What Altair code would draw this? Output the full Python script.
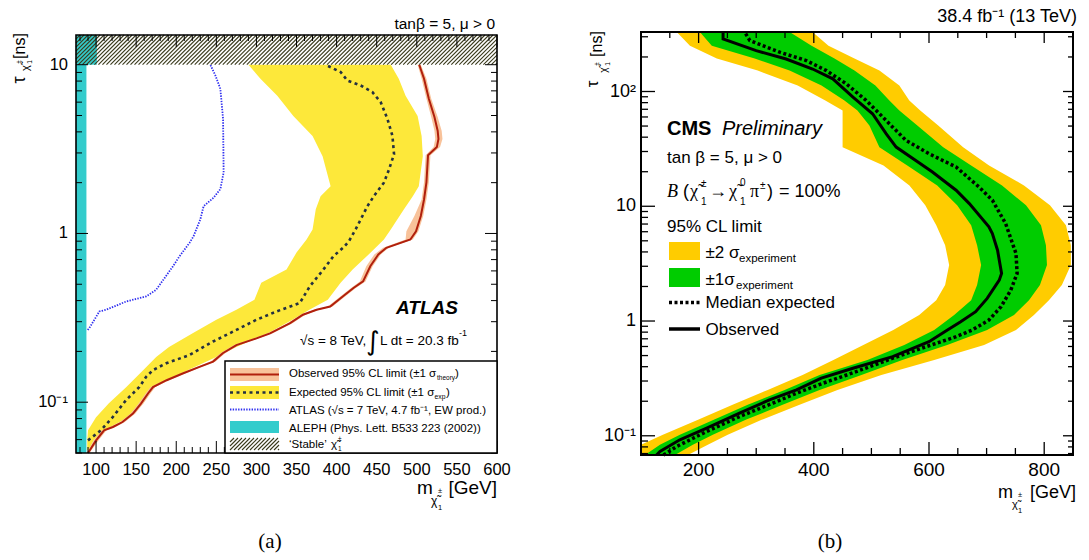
import altair as alt
import pandas as pd

FONT = "Liberation Sans"
SERIF = "Liberation Serif"
CHI = "\u03c7\u0303"

# ------------------------------------------------------------------
# (a) ATLAS, sqrt(s) = 8 TeV, 20.3 fb-1: chargino lifetime vs mass
# ------------------------------------------------------------------
A_XMIN, A_XMAX = 75, 600
A_TMIN, A_TMAX = 0.05, 15

atlas_obs_tau = [0.05, 0.0518, 0.0594, 0.0681, 0.0713, 0.0763, 0.0857, 0.0982, 0.113, 0.123,
                 0.135, 0.148, 0.162, 0.174, 0.195, 0.218, 0.239, 0.256, 0.294, 0.330,
                 0.353, 0.369, 0.424, 0.475, 0.520, 0.639, 0.750, 0.822, 0.921, 1.03,
                 1.27, 1.59, 2.01, 2.91, 3.25, 3.63, 4.06, 4.90, 6.28, 8.26, 10.0]
atlas_obs_mass = [90, 92, 100, 110, 121, 133, 146, 156, 165, 171,
                  188, 208, 229, 246, 258, 275, 300, 317, 342, 358,
                  375, 392, 408, 421, 433, 442, 452, 462, 492, 499,
                  505, 509, 512, 514, 525, 527, 526, 522, 515, 509, 503]
atlas_theory_dn = [2, 2, 3, 3, 3, 3, 3, 3, 3, 3,
                   3, 3, 3, 3, 3, 3, 3, 3, 3, 3,
                   3, 3, 3, 3, 4, 5, 5, 4, 6, 12,
                   8, 3, 3, 3, 4, 4, 4, 4, 3, 3, 2]
atlas_theory_up = [2, 2, 3, 3, 3, 3, 3, 3, 3, 3,
                   3, 3, 3, 3, 3, 3, 3, 3, 3, 3,
                   3, 3, 3, 3, 3, 3, 3, 3, 3, 3,
                   3, 3, 3, 3, 4, 5, 5, 4, 3, 3, 2]

atlas_exp_tau = [0.0594, 0.0681, 0.0818, 0.103, 0.123, 0.1415, 0.155, 0.170, 0.1905, 0.229,
                 0.268, 0.308, 0.345, 0.387, 0.486, 0.610, 0.733, 0.825, 0.900, 1.06,
                 1.21, 1.45, 1.67, 2.00, 2.40, 2.95, 3.79, 4.77, 6.00, 6.88,
                 7.53, 8.06, 9.05, 10.0]
atlas_exp_mass = [90, 106, 121, 137.5, 154, 162.5, 171, 187.5, 216.6, 246,
                  275, 300, 325, 354, 366.6, 383.4, 396, 408.4, 415.4, 423.8,
                  430, 438.4, 446.6, 459, 465.4, 471.6, 469.6, 463.4, 455, 444.6,
                  430, 413.4, 405, 386]

atlas_band_tau = [0.052, 0.0594, 0.0681, 0.0814, 0.0986, 0.1228, 0.155, 0.1853, 0.2126, 0.2575,
                  0.308, 0.353, 0.405, 0.511, 0.611, 0.771, 0.921, 1.056, 1.39, 1.66,
                  1.905, 2.87, 3.78, 4.97, 6.54, 8.25, 10.0]
atlas_band_lo = [89, 89, 90, 100, 116, 137.5, 159, 175, 191, 221,
                 250, 275, 297.5, 306, 337.5, 350, 362.5, 370, 374, 380,
                 392.5, 382.5, 370, 346, 326, 305, 290]
atlas_band_hi = [91, 97, 110, 141, 159, 172.5, 215, 250, 275, 315,
                 345, 366, 389, 405, 420, 442.5, 459, 467.5, 484, 495,
                 502.5, 507.5, 506, 501, 486, 477.5, 467.5]

atlas7_tau = [0.268, 0.275, 0.308, 0.345, 0.353, 0.395, 0.424, 0.464, 0.639, 0.733,
              0.880, 0.963, 1.21, 1.45, 1.63, 1.83, 2.30, 4.77, 7.20, 8.64, 10.0]
atlas7_mass = [89.6, 91.6, 97.9, 104.1, 112.5, 137.5, 162.5, 175, 195.9, 204.1,
               216.6, 221.6, 230, 234.1, 246.6, 255, 259.1, 258.4, 255, 248.8, 242.5]

aleph_tau_lo = [0.05, 10]
aleph_tau_hi = [10, 15]
aleph_mass = [88, 101]

stable_tau = [10, 15]

a_x_major = [100, 150, 200, 250, 300, 350, 400, 450, 500, 550, 600]
a_x_labels = ["100", "150", "200", "250", "300", "350", "400", "450", "500", "550", "600"]
a_x_minor = [v for v in range(80, 600, 10) if v % 50]
a_y_major = [0.1, 1, 10]
a_y_labels = ["10\u207b\u00b9", "1", "10"]
a_y_minor = [0.05, 0.06, 0.07, 0.08, 0.09, 0.2, 0.3, 0.4, 0.5, 0.6, 0.7, 0.8, 0.9,
             2, 3, 4, 5, 6, 7, 8, 9]

# ------------------------------------------------------------------
# (b) CMS preliminary, 13 TeV, 38.4 fb-1
# ------------------------------------------------------------------
B_XMIN, B_XMAX = 100, 850
B_TMIN, B_TMAX = 0.068, 330

cms_obs_tau = [0.068, 0.073, 0.0923, 0.1167, 0.1575, 0.2056, 0.251, 0.318, 0.388, 0.489,
               0.661, 0.835, 0.986, 1.205, 1.575, 2.27, 2.60, 4.14, 5.79, 6.61,
               10.55, 13.8, 19.9, 25.1, 32.8, 42.9, 64.0, 89.2, 129, 157,
               192, 227, 287, 330]
cms_obs_mass = [127, 133, 167.5, 214, 271, 323, 370, 413, 468, 537,
                600, 632, 655, 681, 701, 722, 726, 719, 710, 704,
                670, 647, 606, 577, 543, 525.5, 502, 468, 433, 398,
                352, 300, 242.5, 242.5]

cms_exp_tau = [0.068, 0.0707, 0.0807, 0.109, 0.147, 0.1925, 0.235, 0.287, 0.362, 0.474,
               0.598, 0.730, 0.835, 1.02, 1.331, 1.86, 2.60, 3.88, 5.79, 7.07,
               11.3, 14.7, 22.0, 28.7, 37.5, 48.9, 64.0, 83.5, 117, 152,
               186, 220, 278, 330]
cms_exp_mass = [139, 144.5, 162, 214, 271, 329, 370, 416, 473.5, 537,
                595, 647, 675, 704, 725, 742, 753, 751, 739, 733,
                710, 687, 647, 600, 560, 537, 514, 491, 456, 422,
                387, 341, 289, 280]

cms_band_tau = [0.068, 0.0835, 0.102, 0.1377, 0.186, 0.251, 0.339, 0.458, 0.619, 0.835,
                1.128, 1.52, 2.06, 3.07, 4.58, 6.83, 10.2, 15.2, 22.7, 32.6,
                50.6, 68.4, 83.5, 112.8, 152.2, 193.6, 251, 330]
cms_2sig_lo = [100, 100, 138, 199, 259, 320, 380.5, 434, 486, 538,
               583, 612.6, 628, 635, 628, 612.6, 593.5, 566, 521, 450,
               450, 450, 420, 372, 302.6, 231.6, 185, 162]
cms_1sig_lo = [106.9, 132.9, 167.5, 226.4, 285.3, 349.4, 410, 493.1, 557.1, 609.1,
               643.7, 673.2, 683.5, 690.5, 683.5, 673.2, 648.9, 614.3, 562.3, 513.9,
               496.5, 475.8, 453.2, 413.4, 358, 297.4, 222.9, 202.2]
cms_1sig_hi = [158.9, 190, 224.7, 281.8, 345.9, 410, 482.7, 553.7, 631.6, 700.9,
               747.6, 773.6, 792.6, 804.8, 803, 794.4, 768.4, 726.8, 673.2, 624.7,
               579.7, 548.5, 531.2, 506.9, 470.6, 435.9, 396.1, 358]
cms_2sig_hi = [181.4, 216, 250.6, 309.5, 375.3, 441.1, 517.3, 609.1, 695.7, 751.1,
               782.2, 808.2, 830.7, 846.3, 846.3, 837.7, 810, 764.9, 704.3, 659.3,
               616, 584.8, 565.8, 548.5, 513.9, 470.6, 425.5, 397.8]

b_x_major = [200, 400, 600, 800]
b_x_labels = ["200", "400", "600", "800"]
b_x_minor = [150, 250, 300, 350, 450, 500, 550, 650, 700, 750, 850]
b_y_major = [0.1, 1, 10, 100]
b_y_labels = ["10\u207b\u00b9", "1", "10", "10\u00b2"]
b_y_minor = [0.07, 0.08, 0.09, 0.2, 0.3, 0.4, 0.5, 0.6, 0.7, 0.8, 0.9,
             2, 3, 4, 5, 6, 7, 8, 9, 20, 30, 40, 50, 60, 70, 80, 90, 200, 300]

# colours
YELLOW = "#fde83a"
PEACH = "#f8c29a"
RED = "#b01f0c"
DASHC = "#243040"
BLUE = "#3030f0"
CYAN = "#33cccc"
HATCH = "#3a3a1c"
ORANGE = "#ffcc00"
GREEN = "#00cc00"

# pixel placement of the two plotting frames
SA_X = alt.Scale(domain=[A_XMIN, A_XMAX], range=[76, 497], nice=False, zero=False)
SA_Y = alt.Scale(type="log", domain=[A_TMIN, A_TMAX], range=[453, 35], nice=False)
SB_X = alt.Scale(domain=[B_XMIN, B_XMAX], range=[641, 1073], nice=False, zero=False)
SB_Y = alt.Scale(type="log", domain=[B_TMIN, B_TMAX], range=[455, 32], nice=False)


def X(field, sc):
    return alt.X(f"{field}:Q", scale=sc, axis=None)


def Y(field, sc):
    return alt.Y(f"{field}:Q", scale=sc, axis=None)


def band(tau, lo, hi, color, sx, sy):
    df = pd.DataFrame({"tau": tau, "lo": lo, "hi": hi})
    return alt.Chart(df).mark_area(orient="horizontal", color=color, opacity=1).encode(
        y=Y("tau", sy), x=X("lo", sx), x2="hi:Q")


def curve(tau, mass, sx, sy, **style):
    df = pd.DataFrame({"tau": tau, "m": mass, "i": list(range(len(tau)))})
    return alt.Chart(df).mark_line(**style).encode(
        x=X("m", sx), y=Y("tau", sy), order="i:Q")


def xticks(vals, sx, y0, y1, width=1.0):
    return alt.Chart(pd.DataFrame({"v": vals})).mark_rule(color="black", strokeWidth=width).encode(
        x=X("v", sx), y=alt.value(y0), y2=alt.value(y1))


def yticks(vals, sy, x0, x1, width=1.0):
    return alt.Chart(pd.DataFrame({"v": vals})).mark_rule(color="black", strokeWidth=width).encode(
        y=Y("v", sy), x=alt.value(x0), x2=alt.value(x1))


def xlabels(vals, labels, sx, ypix, size):
    return alt.Chart(pd.DataFrame({"v": vals, "s": labels})).mark_text(
        font=FONT, fontSize=size, baseline="alphabetic", align="center", color="black").encode(
        x=X("v", sx), y=alt.value(ypix), text="s:N")


def ylabels(vals, labels, sy, xpix, size):
    return alt.Chart(pd.DataFrame({"v": vals, "s": labels})).mark_text(
        font=FONT, fontSize=size, baseline="middle", align="right", color="black").encode(
        y=Y("v", sy), x=alt.value(xpix), text="s:N")


def frame(x0, x1, t0, t1, sx, sy, width):
    df = pd.DataFrame({"x": [x0], "x2": [x1], "t": [t0], "t2": [t1]})
    return alt.Chart(df).mark_rect(fillOpacity=0, stroke="black", strokeWidth=width).encode(
        x=X("x", sx), x2="x2:Q", y=Y("t", sy), y2="t2:Q")


def ptext(s, x, y, size, align="left", font=FONT, angle=0, **kw):
    mk = dict(align=align, baseline="alphabetic", font=font, fontSize=size, color="black", **kw)
    if angle:
        mk["angle"] = angle
    return alt.Chart(pd.DataFrame({"s": [s]})).mark_text(**mk).encode(
        x=alt.value(x), y=alt.value(y), text="s:N")


def prect(x, x2, y, y2, **kw):
    return alt.Chart(pd.DataFrame({"k": [0]})).mark_rect(**kw).encode(
        x=alt.value(x), x2=alt.value(x2), y=alt.value(y), y2=alt.value(y2))


def pline(x, x2, y, **kw):
    return alt.Chart(pd.DataFrame({"k": [0]})).mark_rule(**kw).encode(
        x=alt.value(x), x2=alt.value(x2), y=alt.value(y))


# ---- hatching of the 'stable' band, 45 degree strokes clipped to the frame
HATCH_STEP = 5.0   # GeV between strokes
HATCH_RUN = 37.0   # GeV spanned by a stroke over the band height
rows = []
x0 = A_XMIN - HATCH_RUN
ratio = stable_tau[1] / stable_tau[0]
while x0 < A_XMAX:
    ts = max(0.0, (A_XMIN - x0) / HATCH_RUN)
    te = min(1.0, (A_XMAX - x0) / HATCH_RUN)
    rows.append({"x": x0 + ts * HATCH_RUN, "x2": x0 + te * HATCH_RUN,
                 "t": stable_tau[0] * ratio ** ts, "t2": stable_tau[0] * ratio ** te})
    x0 += HATCH_STEP
hatch = alt.Chart(pd.DataFrame(rows)).mark_rule(color=HATCH, strokeWidth=1.1).encode(
    x=X("x", SA_X), x2="x2:Q", y=Y("t", SA_Y), y2="t2:Q")

aleph = alt.Chart(pd.DataFrame({"x": [A_XMIN, A_XMIN], "x2": aleph_mass,
                                "t": aleph_tau_lo, "t2": aleph_tau_hi})).mark_rect(color=CYAN).encode(
    x=X("x", SA_X), x2="x2:Q", y=Y("t", SA_Y), y2="t2:Q")

obs_df = pd.DataFrame({"tau": atlas_obs_tau, "m": atlas_obs_mass,
                       "dn": atlas_theory_dn, "up": atlas_theory_up})
obs_df["lo"] = obs_df["m"] - obs_df["dn"]
obs_df["hi"] = obs_df["m"] + obs_df["up"]
theory_band = alt.Chart(obs_df).mark_area(orient="horizontal", color=PEACH, opacity=1).encode(
    y=Y("tau", SA_Y), x=X("lo", SA_X), x2="hi:Q")

panel_a = alt.layer(
    aleph,
    band(atlas_band_tau, atlas_band_lo, atlas_band_hi, YELLOW, SA_X, SA_Y),
    theory_band,
    curve(atlas_exp_tau, atlas_exp_mass, SA_X, SA_Y, color=DASHC, strokeWidth=2.6, strokeDash=[3, 3.5]),
    curve(atlas_obs_tau, atlas_obs_mass, SA_X, SA_Y, color=RED, strokeWidth=2),
    curve(atlas7_tau, atlas7_mass, SA_X, SA_Y, color=BLUE, strokeWidth=1.8, strokeDash=[1.4, 1.3]),
    hatch,
    xticks(a_x_major, SA_X, 453, 441), xticks(a_x_minor, SA_X, 453, 447),
    xticks(a_x_major, SA_X, 35, 47), xticks(a_x_minor, SA_X, 35, 41),
    yticks(a_y_major, SA_Y, 76, 88), yticks(a_y_minor, SA_Y, 76, 82),
    yticks(a_y_major, SA_Y, 497, 485), yticks(a_y_minor, SA_Y, 497, 491),
    frame(A_XMIN, A_XMAX, A_TMIN, A_TMAX, SA_X, SA_Y, 1.6),
    xlabels(a_x_major, a_x_labels, SA_X, 475, 16.5),
    ylabels(a_y_major, a_y_labels, SA_Y, 68, 16.5),
)

panel_b = alt.layer(
    band(cms_band_tau, cms_2sig_lo, cms_2sig_hi, ORANGE, SB_X, SB_Y),
    band(cms_band_tau, cms_1sig_lo, cms_1sig_hi, GREEN, SB_X, SB_Y),
    curve(cms_exp_tau, cms_exp_mass, SB_X, SB_Y, color="black", strokeWidth=3.5, strokeDash=[3, 2.5]),
    curve(cms_obs_tau, cms_obs_mass, SB_X, SB_Y, color="black", strokeWidth=3),
    xticks(b_x_major, SB_X, 455, 442, 1.3), xticks(b_x_minor, SB_X, 455, 448, 1.3),
    xticks(b_x_major, SB_X, 32, 43, 1.3), xticks(b_x_minor, SB_X, 32, 38, 1.3),
    yticks(b_y_major, SB_Y, 641, 655, 1.3), yticks(b_y_minor, SB_Y, 641, 648, 1.3),
    yticks(b_y_major, SB_Y, 1073, 1063, 1.3), yticks(b_y_minor, SB_Y, 1073, 1068, 1.3),
    frame(B_XMIN, B_XMAX, B_TMIN, B_TMAX, SB_X, SB_Y, 2),
    xlabels(b_x_major, b_x_labels, SB_X, 476, 19),
    ylabels(b_y_major, b_y_labels, SB_Y, 636, 18),
)

# ---- legend of (a): hatch swatch strokes
sw_rows = []
sx0 = 230 - 12
while sx0 < 279:
    a = max(0.0, (230 - sx0) / 12)
    b = min(1.0, (279 - sx0) / 12)
    sw_rows.append({"x": sx0 + 12 * a, "x2": sx0 + 12 * b, "y": 450 - 12 * a, "y2": 450 - 12 * b})
    sx0 += 4
swatch_hatch = alt.Chart(pd.DataFrame(sw_rows)).mark_rule(color=HATCH, strokeWidth=1.1).encode(
    x=alt.X("x:Q", scale=None, axis=None), x2="x2:Q",
    y=alt.Y("y:Q", scale=None, axis=None), y2="y2:Q")

overlay = alt.layer(
    # legend box of (a)
    prect(225, 497, 361, 453, fill="white", stroke="black", strokeWidth=1.5),
    prect(230, 279, 368, 381, color=PEACH),
    pline(230, 279, 374.5, color=RED, strokeWidth=2),
    prect(230, 279, 386, 399, color=YELLOW),
    pline(230, 279, 392.5, color=DASHC, strokeWidth=2.6, strokeDash=[3, 3.5]),
    pline(230, 279, 409.5, color=BLUE, strokeWidth=1.8, strokeDash=[1.4, 1.3]),
    prect(230, 279, 421, 433, color=CYAN),
    swatch_hatch,
    ptext("Observed 95% CL limit (\u00b11 \u03c3", 289, 377, 11.5),
    ptext("theory", 437, 380, 6.5),
    ptext(")", 455, 377, 11.5),
    ptext("Expected 95% CL limit (\u00b11 \u03c3", 289, 396, 11.5),
    ptext("exp", 434.5, 399, 6.8),
    ptext(")", 446, 396, 11.5),
    ptext("ATLAS (\u221as = 7 TeV, 4.7 fb\u207b\u00b9, EW prod.)", 289, 414, 11.5),
    ptext("ALEPH (Phys. Lett. B533 223 (2002))", 289, 432, 11.5),
    ptext("\u2018Stable\u2019", 289, 448, 11.5),
    ptext(CHI, 331, 448, 11.5),
    ptext("\u00b1", 338, 441, 6.5),
    ptext("1", 338, 451, 6.5),
    # annotations of (a)
    ptext("tan\u03b2 = 5, \u03bc > 0", 495, 29, 15.5, align="right"),
    ptext("ATLAS", 396, 314, 19, fontWeight="bold", fontStyle="italic"),
    ptext("\u221as = 8 TeV,", 300, 345, 13.5),
    ptext("\u222b", 366, 350, 26, font="DejaVu Sans"),
    ptext("L dt = 20.3 fb", 380, 345, 13.5),
    ptext("-1", 459, 336, 9),
    # axis titles of (a)
    ptext("m", 417, 494, 19),
    ptext(CHI, 431, 505, 12),
    ptext("\u00b1", 438, 493, 7.5),
    ptext("1", 438, 510, 7.5),
    ptext("[GeV]", 497, 494, 19, align="right"),
    ptext("[ns]", 25, 46, 16, align="center", angle=270),
    ptext("\u03c4", 25, 80, 18, align="center", angle=270),
    ptext(CHI, 29, 68, 11, align="center", angle=270),
    ptext("\u00b1", 21, 62, 6.5, align="center", angle=270),
    ptext("1", 32, 62, 6.5, align="center", angle=270),
    # annotations of (b)
    ptext("38.4 fb\u207b\u00b9 (13 TeV)", 1077, 22, 18, align="right"),
    ptext("CMS", 667, 135, 20, fontWeight="bold"),
    ptext("Preliminary", 722, 135, 20, fontStyle="italic"),
    ptext("tan \u03b2 = 5, \u03bc > 0", 667, 163, 17),
    ptext("B", 667, 197, 18, font=SERIF, fontStyle="italic"),
    ptext("(", 683, 197, 18),
    ptext(CHI, 690, 197, 18, font=SERIF),
    ptext("\u00b1", 701, 187, 10),
    ptext("1", 701, 205, 10),
    ptext("\u2192", 709, 197, 18),
    ptext(CHI, 729, 197, 18, font=SERIF),
    ptext("0", 740, 186, 10),
    ptext("1", 740, 205, 10),
    ptext("\u03c0", 750, 197, 18, font=SERIF),
    ptext("\u00b1", 760, 189, 10),
    ptext(")", 767, 197, 18),
    ptext("= 100%", 779, 197, 18),
    ptext("95% CL limit", 667, 232, 17),
    prect(669, 700, 242, 260, color=ORANGE),
    ptext("\u00b12 \u03c3", 705.5, 258, 17),
    ptext("experiment", 739, 262, 11.5),
    prect(669, 700, 268, 287, color=GREEN),
    ptext("\u00b11\u03c3", 705.5, 285, 17),
    ptext("experiment", 736, 289, 11.5),
    pline(669, 700, 302.5, color="black", strokeWidth=3.5, strokeDash=[3, 2.5]),
    ptext("Median expected", 705.5, 308, 17),
    pline(669, 700, 329, color="black", strokeWidth=3.5),
    ptext("Observed", 705.5, 335, 17),
    # axis titles of (b)
    ptext("m", 998, 498, 18),
    ptext(CHI, 1012, 508, 11),
    ptext("\u00b1", 1018, 497, 7.5),
    ptext("1", 1018, 513, 7.5),
    ptext("[GeV]", 1076, 498, 18, align="right"),
    ptext("[ns]", 602, 44, 16, align="center", angle=270),
    ptext("\u03c4", 598, 84, 17, align="center", angle=270),
    ptext(CHI, 607, 70, 10, align="center", angle=270),
    ptext("\u00b1", 599, 64, 6.5, align="center", angle=270),
    ptext("1", 610, 64, 6.5, align="center", angle=270),
    # sub-figure captions
    ptext("(a)", 270, 548, 21, align="center", font=SERIF),
    ptext("(b)", 830, 548, 21, align="center", font=SERIF),
)

chart = alt.layer(panel_a, panel_b, overlay).resolve_scale(
    x="independent", y="independent"
).properties(
    width=1089, height=560, padding=0,
    autosize=alt.AutoSizeParams(type="none"),
    background="white",
).configure_view(stroke=None)

chart.save("out.html", embed_options={"renderer": "svg", "actions": False})
